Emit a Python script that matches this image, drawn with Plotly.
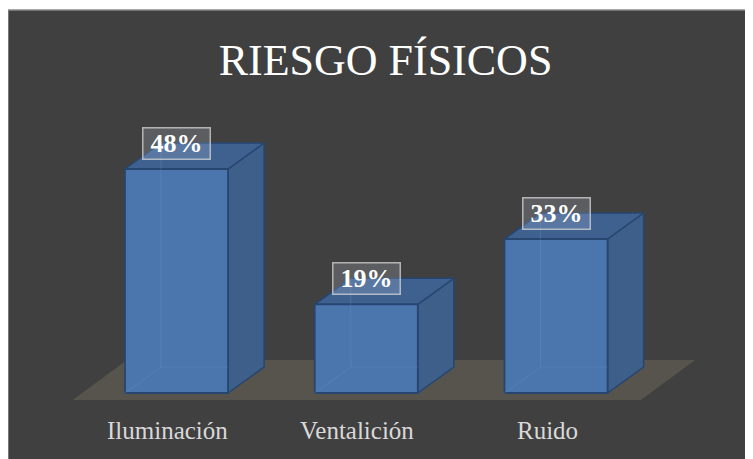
import plotly.graph_objects as go

# ---- data ----
categories = ["Iluminación", "Ventalición", "Ruido"]
values = [48, 19, 33]
value_labels = ["48%", "19%", "33%"]
title_text = "RIESGO FÍSICOS"

# ---- style / geometry ----
BG = "#404040"
FRONT = "#4a76ad"
SIDE = "#3d5f89"
TOP = "#3e6190"
EDGE = "#27466f"
FLOOR = "#57544d"
BAR_W = 0.543      # bar width in category units
DX = 0.19          # 3D depth offset (x, category units)
DY = 5.57          # 3D depth offset (y, percent units)

fig = go.Figure()

# floor (parallelogram under the bars)
n = len(categories)
fl_x0, fl_x1 = -0.547, (n - 1) + 0.447
fl_y0, fl_depth_x, fl_depth_y = -1.5, 0.286, 8.57
fig.add_trace(go.Scatter(
    x=[fl_x0, fl_x1, fl_x1 + fl_depth_x, fl_x0 + fl_depth_x, fl_x0],
    y=[fl_y0, fl_y0, fl_y0 + fl_depth_y, fl_y0 + fl_depth_y, fl_y0],
    fill="toself", fillcolor=FLOOR, mode="lines", line=dict(width=0),
    hoverinfo="skip", showlegend=False))

for i, v in enumerate(values):
    l, r = i - BAR_W / 2, i + BAR_W / 2
    # side face
    fig.add_trace(go.Scatter(
        x=[r, r + DX, r + DX, r, r], y=[0, DY, v + DY, v, 0],
        fill="toself", fillcolor=SIDE, mode="lines",
        line=dict(color=EDGE, width=1.5), hoverinfo="skip", showlegend=False))
    # top face
    fig.add_trace(go.Scatter(
        x=[l, r, r + DX, l + DX, l], y=[v, v, v + DY, v + DY, v],
        fill="toself", fillcolor=TOP, mode="lines",
        line=dict(color=EDGE, width=1.5), hoverinfo="skip", showlegend=False))
    # front face
    fig.add_trace(go.Scatter(
        x=[l, r, r, l, l], y=[0, 0, v, v, 0],
        fill="toself", fillcolor=FRONT, mode="lines",
        line=dict(color=EDGE, width=1.8), hoverinfo="skip", showlegend=False))
    # faint hidden edges seen through the translucent bar
    fig.add_trace(go.Scatter(
        x=[l, l + DX, l + DX, None, l + DX, r], y=[0, DY, v + DY, None, DY, DY],
        mode="lines", line=dict(color="rgba(110,150,200,0.3)", width=1),
        hoverinfo="skip", showlegend=False))
    # value label box
    fig.add_annotation(
        x=i, y=v + DY, xref="x", yref="y", text="<b>" + value_labels[i] + "</b>",
        showarrow=False, font=dict(family="Liberation Serif", size=26, color="white"),
        bgcolor="rgba(200,210,225,0.2)", bordercolor="rgba(215,215,215,0.75)",
        borderwidth=1.5, borderpad=0, width=66, height=30,
        xanchor="center", yanchor="middle")
    # category label
    fig.add_annotation(
        x=i, y=-8.0, xref="x", yref="y", xshift=-9, text=categories[i],
        showarrow=False, font=dict(family="Liberation Serif", size=25, color="#d9d9d9"),
        xanchor="center", yanchor="middle")

# border lines on the left/top of the chart area
fig.add_shape(type="line", xref="paper", yref="paper", x0=0, x1=0, y0=0, y1=1,
              line=dict(color="#8a8a8a", width=1.5))
fig.add_shape(type="line", xref="paper", yref="paper", x0=0, x1=1, y0=1, y1=1,
              line=dict(color="#8a8a8a", width=1.5))

# figure placed at the page's 8px body offset; plot area = screen x 8..753, y 10..459
fig.update_layout(
    width=745, height=451,
    margin=dict(l=0, r=0, t=2, b=0),
    paper_bgcolor="white", plot_bgcolor=BG,
    title=dict(text=title_text, x=377.5 / 745, xref="container", xanchor="center",
               y=1 - 52 / 451, yref="container", yanchor="middle",
               font=dict(family="Liberation Serif", size=44, color="white")),
    xaxis=dict(range=[-0.888, 3.038], showgrid=False, zeroline=False,
               showticklabels=False, fixedrange=True),
    yaxis=dict(range=[-14.14, 82.07], showgrid=False, zeroline=False,
               showticklabels=False, fixedrange=True),
    showlegend=False,
)

fig.write_html("out.html")
